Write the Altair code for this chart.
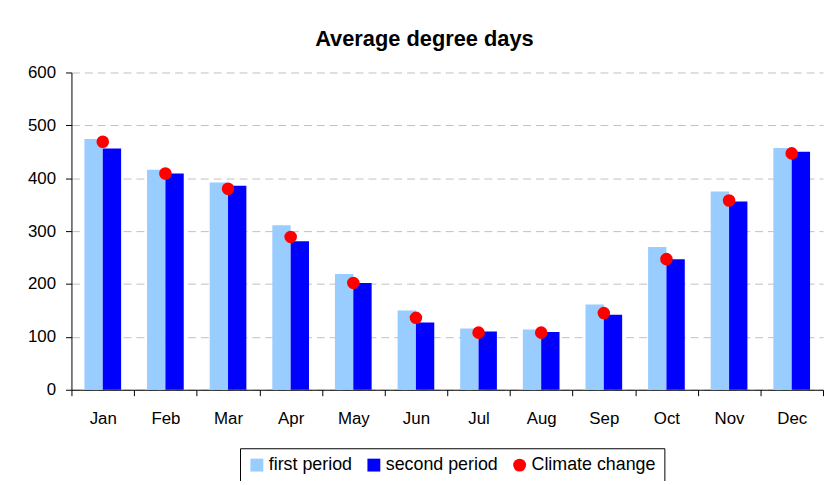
import altair as alt
import pandas as pd

months = ["Jan", "Feb", "Mar", "Apr", "May", "Jun", "Jul", "Aug", "Sep", "Oct", "Nov", "Dec"]
first_period = [474, 416, 392, 311, 219, 150, 116, 114, 161, 270, 375, 457]
second_period = [456, 409, 386, 281, 202, 127, 110, 109, 142, 247, 356, 450]
climate_change = [469, 409, 380, 289, 202, 136, 108, 108, 145, 247, 358, 447]

series_names = ["first period", "second period", "Climate change"]
series_colors = ["#99CCFF", "#0000FF", "#FF0000"]
series_shapes = ["square", "square", "circle"]

bar_df = pd.DataFrame(
    {
        "month": months * 2,
        "series": [series_names[0]] * 12 + [series_names[1]] * 12,
        "value": first_period + second_period,
    }
)
dot_df = pd.DataFrame(
    {"month": months, "series": [series_names[2]] * 12, "value": climate_change}
)

FONT = "Liberation Sans"

color_scale = alt.Scale(domain=series_names, range=series_colors)
shape_scale = alt.Scale(domain=series_names, range=series_shapes)

x_enc = alt.X(
    "month:N",
    sort=months,
    scale=alt.Scale(paddingInner=0, paddingOuter=0),
    axis=alt.Axis(
        title=None,
        labelAngle=0,
        tickBand="extent",
        labelFontSize=17,
        labelPadding=15,
        tickSize=6,
        domainColor="black",
        tickColor="black",
        labelColor="black",
        grid=False,
    ),
)
y_enc = alt.Y(
    "value:Q",
    scale=alt.Scale(domain=[0, 600], nice=False),
    axis=alt.Axis(
        title=None,
        values=[0, 100, 200, 300, 400, 500, 600],
        labelFontSize=17,
        labelPadding=10,
        tickSize=6,
        domainColor="black",
        tickColor="black",
        labelColor="black",
        grid=True,
        gridColor="#C0C0C0",
        gridDash=[8, 5],
        gridWidth=1,
    ),
)

legend = alt.Legend(
    title=None, orient="none", direction="horizontal", legendX=170, legendY=379
)

bars = (
    alt.Chart(bar_df)
    .mark_bar(stroke=None)
    .encode(
        x=x_enc,
        xOffset=alt.XOffset(
            "series:N",
            sort=series_names[:2],
            scale=alt.Scale(paddingInner=0, paddingOuter=0.707),
        ),
        y=y_enc,
        color=alt.Color("series:N", scale=color_scale, legend=legend),
    )
)

dots = (
    alt.Chart(dot_df)
    .mark_point(filled=True, size=160, opacity=1)
    .encode(
        x=alt.X("month:N", sort=months),
        y=alt.Y("value:Q"),
        color=alt.Color("series:N", scale=color_scale, legend=legend),
        shape=alt.Shape("series:N", scale=shape_scale, legend=legend),
    )
)

chart = (
    alt.layer(bars, dots)
    .properties(
        width=758,
        height=320,
        title=alt.TitleParams(
            "Average degree days",
            fontSize=22,
            fontWeight="bold",
            font=FONT,
            anchor="middle",
            dx=-23,
            offset=13,
            color="black",
        ),
        padding={"left": 64, "top": 63, "right": 2, "bottom": 90},
        autosize=alt.AutoSizeParams(type="none"),
    )
    .configure(font=FONT)
    .configure_view(stroke=None)
    .configure_axis(labelFont=FONT)
    .configure_legend(
        strokeColor="black",
        fillColor="white",
        padding=8,
        labelFont=FONT,
        labelFontSize=18,
        labelColor="black",
        labelOffset=3,
        symbolSize=169,
        symbolStrokeWidth=0,
        columnPadding=12,
        cornerRadius=0,
    )
)

chart.save("out.html", embed_options={"renderer": "svg", "actions": False})
